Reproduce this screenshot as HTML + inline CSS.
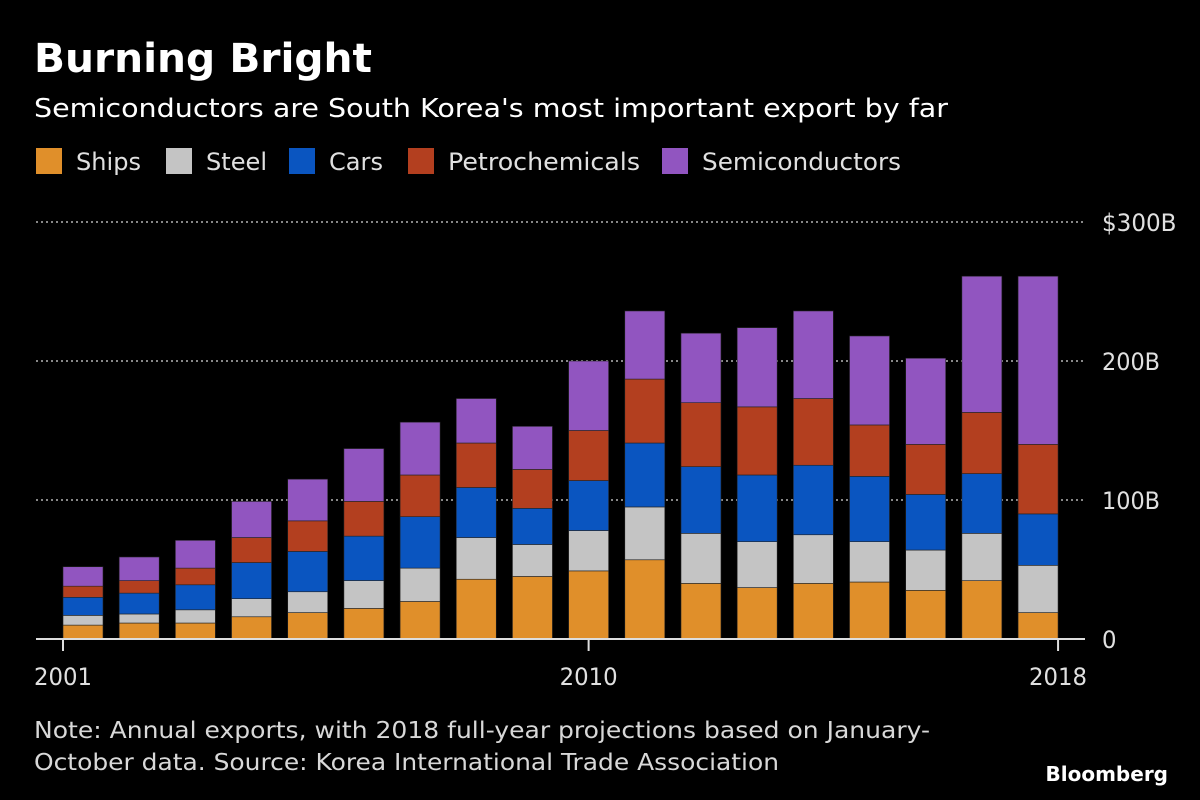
<!DOCTYPE html>
<html><head><meta charset="utf-8">
<style>
body{margin:0;background:#000;width:1200px;height:800px;overflow:hidden;font-family:"DejaVu Sans","Liberation Sans",sans-serif;color:#fff}
svg{position:absolute;left:0;top:0}
text{font-family:"DejaVu Sans","Liberation Sans",sans-serif}
</style></head>
<body>
<svg id="chart" width="1200" height="800">
<text x="34" y="72" font-size="40" font-weight="bold" fill="#fff" textLength="338" lengthAdjust="spacingAndGlyphs">Burning Bright</text>
<text x="34" y="117" font-size="26" fill="#fff" textLength="914" lengthAdjust="spacingAndGlyphs">Semiconductors are South Korea's most important export by far</text>
<g id="legend"></g>
<g id="grid"></g>
<g id="bars"></g>
<g id="axis"></g>
<text x="34" y="738" font-size="23" fill="#d8d8d8" textLength="896" lengthAdjust="spacingAndGlyphs">Note: Annual exports, with 2018 full-year projections based on January-</text>
<text x="34" y="770" font-size="23" fill="#d8d8d8" textLength="745" lengthAdjust="spacingAndGlyphs">October data. Source: Korea International Trade Association</text>
<text x="1168" y="781" font-size="20" font-weight="bold" fill="#fff" text-anchor="end">Bloomberg</text>
</svg>
<script>
const years=[2001,2002,2003,2004,2005,2006,2007,2008,2009,2010,2011,2012,2013,2014,2015,2016,2017,2018];
const ships=[10,11.5,11.5,16,19,22,27,43,45,49,57,40,37,40,41,35,42,19];
const steel=[7,6.5,9.5,13,15,20,24,30,23,29,38,36,33,35,29,29,34,34];
const cars=[13,15,18,26,29,32,37,36,26,36,46,48,48,50,47,40,43,37];
const petro=[8,9,12,18,22,25,30,32,28,36,46,46,49,48,37,36,44,50];
const semis=[14,17,20,26,30,38,38,32,31,50,49,50,57,63,64,62,98,121];
const seriesNames=["Ships","Steel","Cars","Petrochemicals","Semiconductors"];
const seriesData=[ships,steel,cars,petro,semis];
const colors=["#e08f2a","#c4c4c4","#0a55c0","#b33f1f","#9155c0"];
const yTicks=[0,100,200,300];
const yTickLabels=["0","100B","200B","$300B"];
const xLabelYears=[2001,2010,2018];

const NS="http://www.w3.org/2000/svg";
const y0=639, pxPer=1.39, x0=83, step=56.18, bw=40;
const yS=v=>y0-v*pxPer;
const xS=i=>x0+i*step;
function mk(tag,attrs,parent,text){const e=document.createElementNS(NS,tag);for(const k in attrs)e.setAttribute(k,attrs[k]);if(text!==undefined)e.textContent=text;parent.appendChild(e);return e;}

const leg=document.getElementById('legend');
const legX=[36,166,289,408,662];
const legW=[65,61,54,192,199];
seriesNames.forEach((n,i)=>{
  const r=mk('rect',{x:legX[i],y:148,width:26,height:26,fill:colors[i]},leg);
  
  
  const t=mk('text',{x:legX[i]+40,y:170,'font-size':24,fill:'#e0e0e0',textLength:legW[i],lengthAdjust:'spacingAndGlyphs'},leg,n);
  
  
});

const grid=document.getElementById('grid');
yTicks.forEach((v,i)=>{
  if(v>0){const l=mk('line',{x1:36,x2:1085,y1:yS(v),y2:yS(v),stroke:'#888','stroke-width':2,'stroke-dasharray':'2,3'},grid);
  
  }
  const lab=yTickLabels[i];
  const w=lab.length*14.5+(lab[0]==='$'?2:0);
  const t=mk('text',{x:1102,y:yS(v)+9,'font-size':24,fill:'#e0e0e0',textLength:w,lengthAdjust:'spacingAndGlyphs'},grid,lab);
  
  
});

const bars=document.getElementById('bars');
years.forEach((yr,i)=>{
  let cum=0;
  seriesData.forEach((s,k)=>{
    const v=s[i];
    const r=mk('rect',{x:xS(i)-bw/2,y:yS(cum+v),width:bw,height:v*pxPer,fill:colors[k],stroke:'#222','stroke-width':0.6},bars);
    
    
    cum+=v;
  });
});

const ax=document.getElementById('axis');
const base=mk('line',{x1:36,x2:1085,y1:y0,y2:y0,stroke:'#ddd','stroke-width':2},ax);


xLabelYears.forEach(yr=>{
  const i=years.indexOf(yr);let x=xS(i);
  if(i===0)x-=bw/2;
  if(i===years.length-1)x+=bw/2;
  const tk=mk('line',{x1:x,x2:x,y1:y0,y2:y0+12,stroke:'#ddd','stroke-width':2},ax);
  
  
  const t=mk('text',{x:x,y:685,'font-size':24,fill:'#e0e0e0','text-anchor':'middle',textLength:58,lengthAdjust:'spacingAndGlyphs'},ax,yr);
  
  
});
</script>
</body></html>
